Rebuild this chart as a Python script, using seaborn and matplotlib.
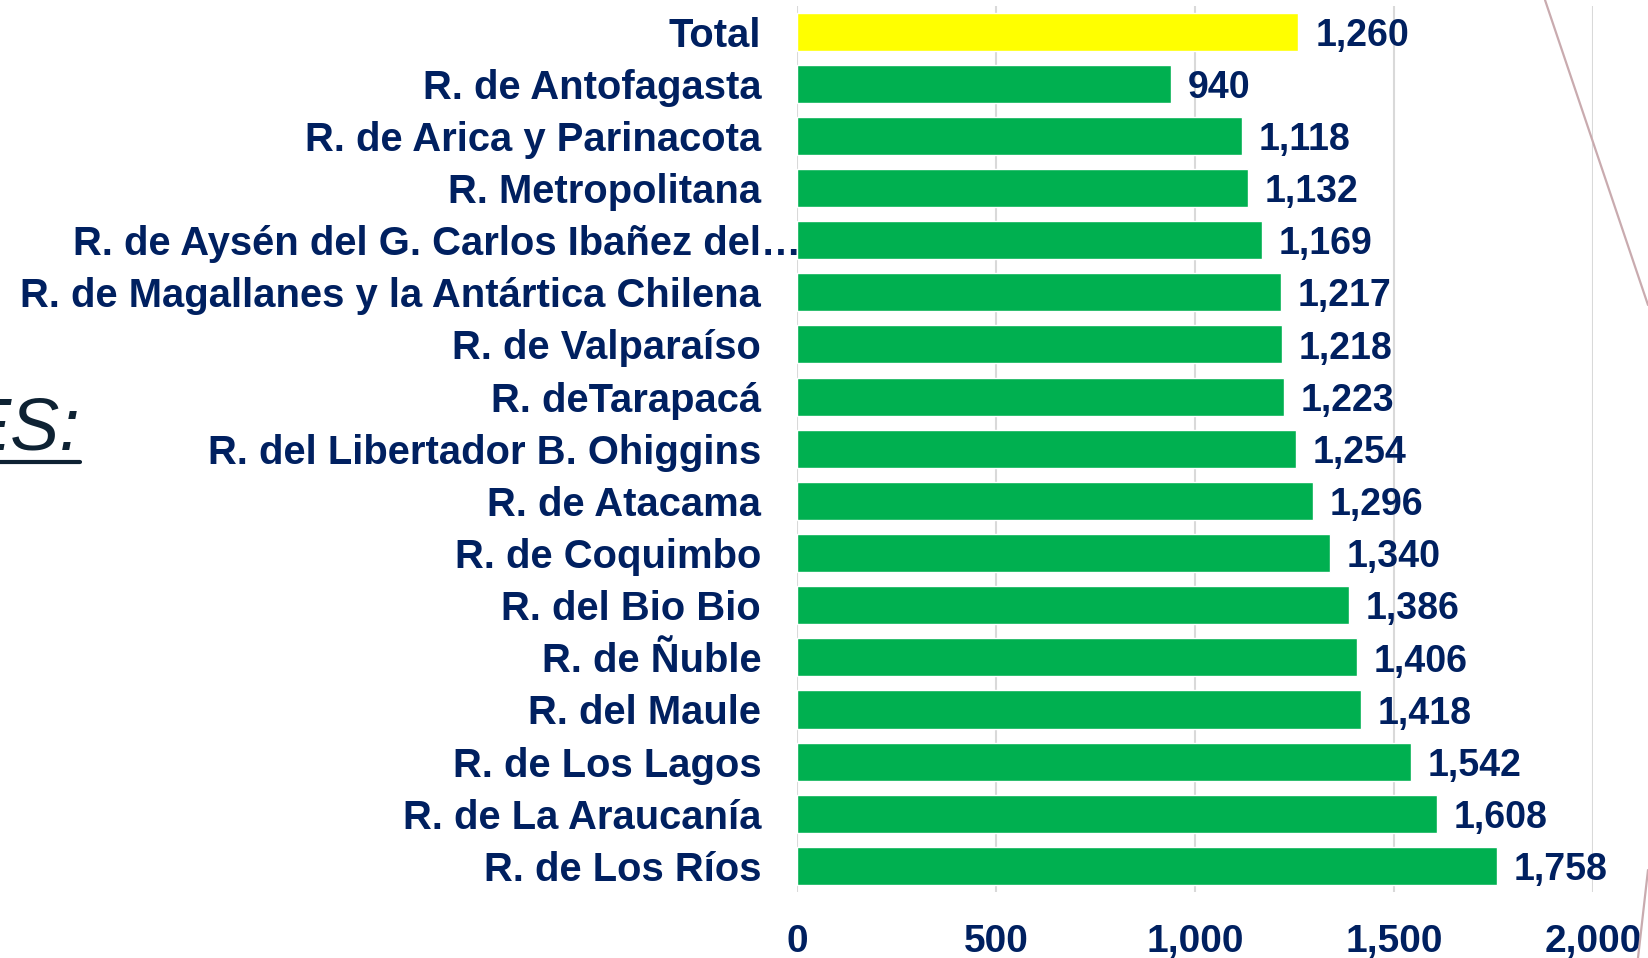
import matplotlib
matplotlib.use("Agg")
import matplotlib.pyplot as plt
import matplotlib.transforms as mtransforms
from matplotlib.lines import Line2D
import seaborn as sns
import pandas as pd

regions = [
    "Total",
    "R. de Antofagasta",
    "R. de Arica y Parinacota",
    "R. Metropolitana",
    "R. de Aysén del G. Carlos Ibañez del…",
    "R. de Magallanes y la Antártica Chilena",
    "R. de Valparaíso",
    "R. deTarapacá",
    "R. del Libertador B. Ohiggins",
    "R. de Atacama",
    "R. de Coquimbo",
    "R. del Bio Bio",
    "R. de Ñuble",
    "R. del Maule",
    "R. de Los Lagos",
    "R. de La Araucanía",
    "R. de Los Ríos",
]
values = [1260, 940, 1118, 1132, 1169, 1217, 1218, 1223, 1254, 1296,
          1340, 1386, 1406, 1418, 1542, 1608, 1758]
bar_colors = ["#FFFF00"] + ["#00B050"] * 16
xticks = [0, 500, 1000, 1500, 2000]

NAVY = "#002060"
W, H = 1648, 958

sns.set_theme(style="white")
plt.rcParams["font.family"] = ["Liberation Sans", "DejaVu Sans"]

fig = plt.figure(figsize=(W / 100, H / 100), dpi=100)
fig.patch.set_facecolor("white")

ax_left, ax_right = 797, 1593
ax_top, ax_bottom = 5.5, 892
ax = fig.add_axes([ax_left / W, 1 - ax_bottom / H,
                   (ax_right - ax_left) / W, (ax_bottom - ax_top) / H])

df = pd.DataFrame({"region": regions, "value": values})
sns.barplot(data=df, x="value", y="region", hue="region",
            palette=bar_colors, legend=False, width=0.73,
            saturation=1, orient="h", ax=ax)

for cont in ax.containers:
    texts = ax.bar_label(cont, fmt="{:,.0f}", padding=12, fontsize=27,
                         fontweight="bold", color=NAVY)
    for t in texts:
        xo, yo = t.xyann
        t.xyann = (xo, yo - 3)

ax.set_xlim(0, 2000)
ax.set_xticks(xticks)
ax.set_xticklabels([f"{t:,}" for t in xticks])
ax.set_xlabel("")
ax.set_ylabel("")
ax.grid(axis="x", color="#D9D9D9", lw=1.5)
ax.grid(axis="y", visible=False)
ax.set_axisbelow(True)
for s in ax.spines.values():
    s.set_visible(False)

ax.tick_params(axis="y", length=0, pad=25.8, labelsize=28.85, colors=NAVY)
ax.tick_params(axis="x", length=0, pad=23, labelsize=28, colors=NAVY)
for lab in ax.get_yticklabels() + ax.get_xticklabels():
    lab.set_fontweight("bold")

# the truncated Aysén label overflows toward the bars
lab = ax.get_yticklabels()[4]
lab.set_transform(lab.get_transform() +
                  mtransforms.ScaledTranslation(0.40, 0, fig.dpi_scale_trans))

# partial slide title on the left
fig.text(80 / W, 1 - 450 / H, "ES:", ha="right", va="baseline",
         fontsize=53, style="italic", color="#0E2233")
fig.add_artist(Line2D([0, 80 / W], [1 - 462 / H, 1 - 462 / H],
                      color="#0E2233", lw=3))

# decorative slide lines
fig.add_artist(Line2D([1545 / W, 1.0], [1.0, 1 - 305 / H],
                      color="#C9ABAF", lw=1.6))
fig.add_artist(Line2D([1.0, 1638 / W], [1 - 870 / H, 0.0],
                      color="#C9ABAF", lw=1.6))

fig.savefig("out.png", dpi=100)
